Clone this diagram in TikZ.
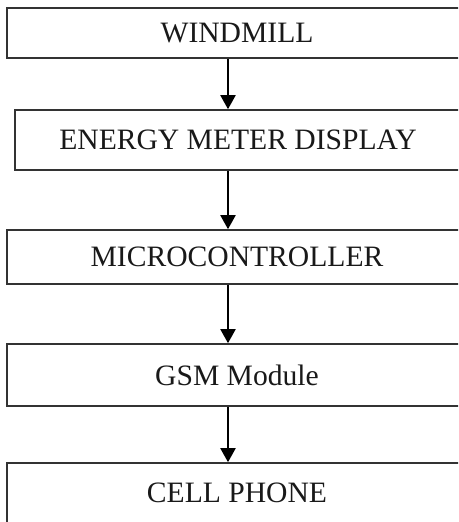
\documentclass[tikz,border=0pt]{standalone}
\usepackage{fontspec}
\setmainfont{Liberation Serif}
\usetikzlibrary{arrows.meta}
\begin{document}
\begin{tikzpicture}[x=1pt,y=1pt,
  blockbox/.style={draw=black!80, line width=1.6pt, fill=white, rectangle, inner sep=0pt,
    font=\fontsize{29.6}{32}\selectfont, text=black!90},
  flowarrow/.style={line width=2pt, -{Triangle[width=15pt,length=14pt]}}]
\clip (0,0) rectangle (458,522);
\useasboundingbox (0,0) rectangle (458,522);
\node[blockbox, minimum width=460pt, minimum height=50pt] (wind) at (237,489) {WINDMILL};
\node[blockbox, minimum width=446pt, minimum height=60pt] (meter) at (238,382) {ENERGY METER DISPLAY};
\node[blockbox, minimum width=460pt, minimum height=54pt] (mcu) at (237,265) {MICROCONTROLLER};
\node[blockbox, minimum width=460pt, minimum height=62pt] (gsm) at (237,147) {GSM Module};
\node[blockbox, minimum width=460pt, minimum height=60pt] (cell) at (237,29) {CELL PHONE};
\coordinate (col) at (228,0);
\draw[flowarrow] (wind.south -| col) -- (meter.north -| col);
\draw[flowarrow] (meter.south -| col) -- (mcu.north -| col);
\draw[flowarrow] (mcu.south -| col) -- (gsm.north -| col);
\draw[flowarrow] (gsm.south -| col) -- (cell.north -| col);
\end{tikzpicture}
\end{document}
